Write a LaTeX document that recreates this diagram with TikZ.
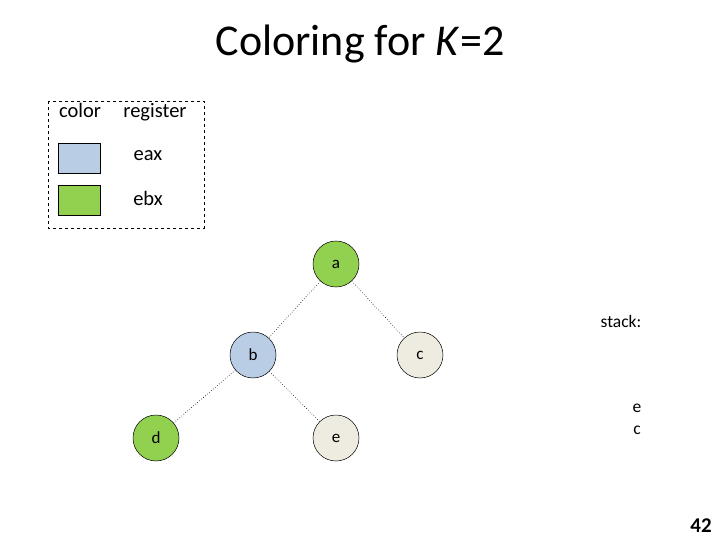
\documentclass[tikz,border=0pt]{standalone}
\usepackage{fontspec}
\setmainfont{Carlito}
\usetikzlibrary{positioning}

\begin{document}
\begin{tikzpicture}[
  x=1pt,y=-1pt,
  vertex/.style={circle,draw=black,line width=0.5pt,minimum size=46pt,inner sep=0pt,font=\fontsize{17}{19}\selectfont},
  eaxcol/.style={vertex,fill=eaxfill},
  ebxcol/.style={vertex,fill=ebxfill},
  nocol/.style={vertex,fill=nofill},
  swatch/.style={rectangle,draw=black,thin,minimum width=42pt,minimum height=30pt,inner sep=0pt},
  edge/.style={dotted,black,line width=0.6pt},
  lbl/.style={font=\fontsize{20.5}{23}\selectfont,inner sep=0pt,anchor=base},
  stk/.style={font=\fontsize{17.5}{20}\selectfont,inner sep=0pt,anchor=base},
]
\definecolor{eaxfill}{HTML}{B9CDE5}
\definecolor{ebxfill}{HTML}{92D050}
\definecolor{nofill}{HTML}{EEECE1}
\useasboundingbox (0,0) rectangle (720,540);

\node[font=\fontsize{44}{48}\selectfont,anchor=base] (title) at (360,56) {Coloring for \textit{K}=2};

% legend
\draw[dashed,thin] (48,101) rectangle (204,228);
\node[lbl] (colhead) at (80,118) {color};
\node[lbl] (reghead) at (155,118) {register};
\node[swatch,fill=eaxfill] (sweax) at (79,158) {};
\node[swatch,fill=ebxfill] (swebx) at (79,200) {};
\node[lbl] (eax) at (148,161) {eax};
\node[lbl] (ebx) at (148,206) {ebx};

% interference graph
\node[ebxcol] (a) at (336,264) {a};
\node[eaxcol] (b) at (253,355) {b};
\node[nocol] (c) at (420,355) {c};
\node[ebxcol] (d) at (156,438) {d};
\node[nocol] (e) at (336,438) {e};

\draw[edge] (a) -- (b);
\draw[edge] (a) -- (c);
\draw[edge] (b) -- (d);
\draw[edge] (b) -- (e);

% stack
\node[stk] (stack) at (621,327) {stack:};
\node[stk] (se) at (637,412) {e};
\node[stk] (sc) at (637,434) {c};

\node[font=\fontsize{21}{24}\selectfont\bfseries,inner sep=0pt,anchor=base] (page) at (701,532) {42};
\end{tikzpicture}
\end{document}
